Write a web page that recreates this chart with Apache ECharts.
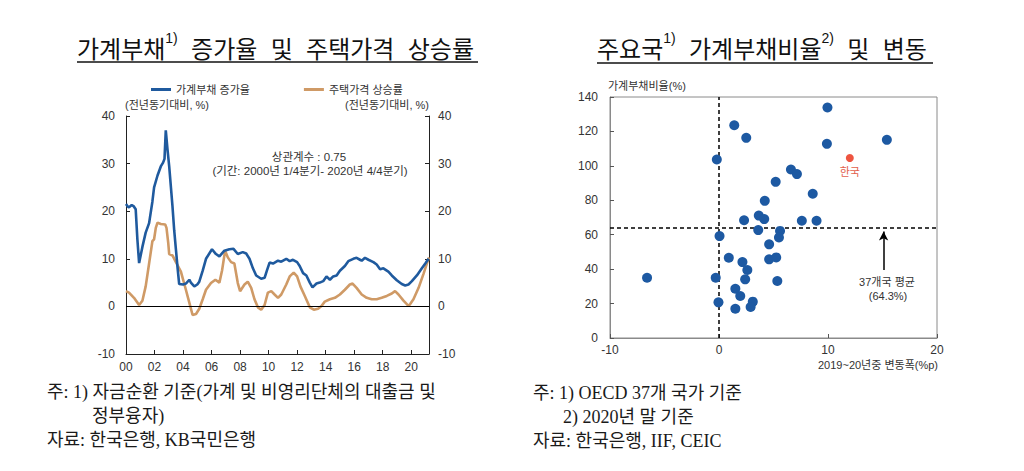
<!DOCTYPE html>
<html><head><meta charset="utf-8">
<script src="https://cdn.jsdelivr.net/npm/echarts@6/dist/echarts.min.js"></script>
<style>html,body{margin:0;padding:0;background:#fff}#c{width:1024px;height:471px}</style>
</head><body><div id="c"></div>
<script>
// ---- Left chart data ----
const yearTickLabels = ['00','02','04','06','08','10','12','14','16','18','20'];
const leftYTicks = [-10, 0, 10, 20, 30, 40];
const seriesNames = ['가계부채 증가율', '주택가격 상승률'];
const debtGrowth = [[2000.0,21.5],[2000.12,21.0],[2000.21,20.8],[2000.4,21.3],[2000.55,21.0],[2000.68,20.4],[2000.8,14],[2000.92,9.1],[2001.15,12.5],[2001.38,15.5],[2001.62,17.5],[2001.85,22],[2001.97,25],[2002.21,27.5],[2002.44,29.4],[2002.6,30.2],[2002.7,31],[2002.79,37],[2002.91,33],[2003.03,29.4],[2003.26,21],[2003.38,16],[2003.5,12],[2003.62,8],[2003.73,4.7],[2004.0,4.6],[2004.2,4.8],[2004.44,5.6],[2004.55,5.0],[2004.79,4.2],[2005.0,4.6],[2005.14,5.2],[2005.38,7.5],[2005.61,10],[2006.03,12],[2006.31,11],[2006.55,10.5],[2006.9,11.7],[2007.25,12],[2007.54,12.1],[2007.84,11],[2008.19,11.4],[2008.43,11.1],[2008.66,10],[2008.9,8],[2009.13,6.5],[2009.48,5.8],[2009.72,6],[2009.88,7.5],[2010.07,9.2],[2010.31,9],[2010.66,9.6],[2010.89,9.4],[2011.24,10],[2011.48,9.5],[2011.71,9.8],[2012.0,9.3],[2012.18,8.5],[2012.42,7],[2012.65,6.5],[2012.89,5],[2013.08,4],[2013.36,4.8],[2013.59,5],[2013.83,5.3],[2014.06,6.3],[2014.3,5.6],[2014.53,6.3],[2014.77,6.5],[2015.0,7.5],[2015.35,8.5],[2015.59,9.5],[2015.94,10],[2016.17,10.2],[2016.41,9.8],[2016.53,9.6],[2016.76,10.2],[2017.0,9.8],[2017.35,9.3],[2017.58,8.8],[2017.82,7.8],[2018.05,8],[2018.4,7.3],[2018.64,6.5],[2018.99,5.5],[2019.34,4.7],[2019.58,4.4],[2019.81,4.6],[2020.05,5.3],[2020.4,6.5],[2020.75,8],[2020.99,9],[2021.22,10]];
const housePrice = [[2000.0,3.2],[2000.21,2.9],[2000.56,1.8],[2000.92,0.3],[2001.15,1.2],[2001.38,4.2],[2001.62,9],[2001.85,13.7],[2001.97,14.1],[2002.09,16.5],[2002.21,17.6],[2002.44,17.3],[2002.75,17.2],[2002.84,16.5],[2002.96,13.4],[2003.03,11],[2003.26,10.7],[2003.5,9.3],[2003.85,7.3],[2004.2,3.5],[2004.44,0.8],[2004.67,-1.8],[2004.91,-1.6],[2005.14,-0.5],[2005.38,1.5],[2005.61,3.5],[2005.96,4.9],[2006.27,5.6],[2006.55,5],[2006.74,7.6],[2006.95,11.7],[2007.14,10.3],[2007.37,9.3],[2007.6,9],[2007.84,4.9],[2008.0,3.2],[2008.31,4.6],[2008.54,5.2],[2008.78,3.9],[2009.01,1.5],[2009.25,-0.2],[2009.48,-0.7],[2009.72,0.3],[2009.95,2.9],[2010.19,3.2],[2010.42,2.5],[2010.66,1.8],[2010.89,2.5],[2011.24,4.6],[2011.48,6.3],[2011.76,7.1],[2012.0,6.3],[2012.23,4.2],[2012.54,2.2],[2012.89,-0.2],[2013.17,-0.7],[2013.47,-0.5],[2013.71,0.1],[2013.94,1.0],[2014.3,1.5],[2014.65,1.8],[2015.0,2.5],[2015.35,3.5],[2015.7,4.6],[2015.89,4.8],[2016.17,3.9],[2016.53,2.5],[2016.88,1.8],[2017.23,1.5],[2017.58,1.5],[2017.93,1.8],[2018.29,2.2],[2018.64,2.7],[2018.87,3.2],[2019.11,2.5],[2019.46,1.2],[2019.81,0.1],[2019.93,0.5],[2020.16,1.5],[2020.52,3.9],[2020.87,6.9],[2021.1,9],[2021.25,10.3]];

// ---- Right chart data: [2019~20 change (%p), household debt ratio (%)] ----
const countryPoints = [[1.4,123.6],[2.5,116.3],[-0.2,103.7],[5.2,90.7],[4.2,79.7],[2.3,68.4],[3.65,71.1],[4.15,69.1],[9.95,133.9],[9.9,112.8],[15.4,115.1],[6.6,97.9],[7.15,95.2],[8.6,83.8],[7.6,68.1],[8.95,68.1],[3.6,62.7],[5.6,62.2],[0.05,59.2],[5.5,58.4],[4.6,54.4],[0.9,46.6],[2.15,44.1],[4.6,45.7],[5.25,46.8],[2.6,39.5],[-0.3,35.0],[2.4,34.1],[5.35,33.1],[1.5,28.6],[1.95,24.4],[-0.05,20.7],[3.1,21.1],[2.9,18.0],[1.5,17.0],[-6.6,35.0]];
const koreaPoint = [[12.0,104.6]];
const koreaLabel = '한국';
const oecdAverage = 64.3;
const rightXTicks = [-10, 0, 10, 20];
const rightYTicks = [0, 20, 40, 60, 80, 100, 120, 140];

const FONT = "'Liberation Sans','Noto Sans CJK KR',sans-serif";
const SERIF = "'Liberation Serif','Noto Sans CJK KR',serif";
const BLUE = '#1f5a9e', ORANGE = '#cf9a66', DOT = '#1d59a2', RED = '#ee5440';
const axisText = {color:'#333', fontSize:12, fontFamily:FONT};
const noteStyle = (t) => ({text:t, fontSize:18, fontFamily:SERIF, fill:'#1a1a1a', verticalAlign:'middle'});

const chart = echarts.init(document.getElementById('c'), null, {renderer:'svg'});
chart.setOption({
  animation:false,
  textStyle:{fontFamily:FONT},
  legend:{data:seriesNames, left:146, top:79, itemWidth:20, itemHeight:3, itemGap:54, icon:'rect',
    textStyle:{fontSize:11, color:'#333', fontFamily:FONT}},
  grid:[
    {left:126, top:116, width:303, height:238},
    {left:610, top:97, width:327, height:241, show:true, borderColor:'#8a8a8a', borderWidth:1}
  ],
  xAxis:[
    {gridIndex:0, type:'value', min:2000, max:2021.25, interval:2,
     axisLine:{onZero:false, lineStyle:{color:'#222', width:1}},
     axisTick:{inside:true, length:4, lineStyle:{color:'#222'}},
     splitLine:{show:false}, showMaxLabel:false,
     axisLabel:Object.assign({margin:7, formatter:v=>yearTickLabels[Math.round((v-2000)/2)] ?? ''}, axisText)},
    {gridIndex:1, type:'value', min:rightXTicks[0], max:rightXTicks[rightXTicks.length-1], interval:10,
     axisLine:{onZero:false, lineStyle:{color:'#8a8a8a'}},
     axisTick:{inside:true, length:4, lineStyle:{color:'#555'}},
     splitLine:{show:false},
     axisLabel:Object.assign({margin:6}, axisText)}
  ],
  yAxis:[
    {gridIndex:0, type:'value', min:leftYTicks[0], max:leftYTicks[leftYTicks.length-1], interval:10,
     axisLine:{show:true, onZero:false, lineStyle:{color:'#222'}},
     axisTick:{show:true, inside:true, length:4, lineStyle:{color:'#222'}},
     splitLine:{show:false}, axisLabel:Object.assign({margin:11}, axisText)},
    {gridIndex:0, type:'value', position:'right', min:leftYTicks[0], max:leftYTicks[leftYTicks.length-1], interval:10,
     axisLine:{show:true, onZero:false, lineStyle:{color:'#222'}},
     axisTick:{show:true, inside:true, length:4, lineStyle:{color:'#222'}},
     splitLine:{show:false}, axisLabel:Object.assign({margin:9}, axisText)},
    {gridIndex:1, type:'value', min:rightYTicks[0], max:rightYTicks[rightYTicks.length-1], interval:20,
     axisLine:{show:true, onZero:false, lineStyle:{color:'#8a8a8a'}},
     axisTick:{show:true, inside:true, length:4, lineStyle:{color:'#555'}},
     splitLine:{show:false}, axisLabel:Object.assign({margin:12}, axisText)}
  ],
  series:[
    {name:seriesNames[0], type:'line', xAxisIndex:0, yAxisIndex:0, data:debtGrowth, showSymbol:false,
     lineStyle:{color:BLUE, width:2.6}, itemStyle:{color:BLUE}, z:4,
     markLine:{silent:true, symbol:'none', label:{show:false}, lineStyle:{color:'#000', width:1, type:'solid'}, data:[{yAxis:0}]}},
    {name:seriesNames[1], type:'line', xAxisIndex:0, yAxisIndex:0, data:housePrice, showSymbol:false,
     lineStyle:{color:ORANGE, width:2.6}, itemStyle:{color:ORANGE}, z:3},
    {name:'countries', type:'scatter', xAxisIndex:1, yAxisIndex:2, data:countryPoints, symbol:'circle', symbolSize:10,
     itemStyle:{color:DOT, opacity:1}, z:5,
     markLine:{silent:true, symbol:'none', label:{show:false}, lineStyle:{color:'#000', width:1.5, type:[4,3]},
       data:[{xAxis:0},{yAxis:oecdAverage}]}},
    {name:koreaLabel, type:'scatter', xAxisIndex:1, yAxisIndex:2, data:koreaPoint, symbol:'circle', symbolSize:8,
     itemStyle:{color:RED, opacity:1}, z:6,
     label:{show:true, position:'bottom', distance:5, formatter:koreaLabel, color:'#e2604c', fontSize:11, fontFamily:FONT},
     markLine:{silent:true, symbol:['none','arrow'], symbolSize:[7,9], label:{show:false},
       lineStyle:{color:'#000', width:1.5, type:'solid'},
       data:[[{coord:[15.1,39.5]},{coord:[15.1,61.8]}]]}}
  ],
  graphic:[
    {type:'text', left:77, top:31, style:{
      text:'{m|가계부채}{s|1)}{m|  증가율  및  주택가격  상승률}',
      rich:{m:{fontSize:24, fontFamily:FONT, fill:'#111', lineHeight:30, verticalAlign:'bottom'},
            s:{fontSize:14, fontFamily:FONT, fill:'#111', lineHeight:30, verticalAlign:'top'}}}},
    {type:'line', shape:{x1:77, y1:62, x2:478, y2:62}, style:{stroke:'#111', lineWidth:1.5}},
    {type:'text', left:597, top:31, style:{
      text:'{m|주요국}{s|1)}{m|  가계부채비율}{s|2)}{m|  및  변동}',
      rich:{m:{fontSize:24, fontFamily:FONT, fill:'#111', lineHeight:30, verticalAlign:'bottom'},
            s:{fontSize:14, fontFamily:FONT, fill:'#111', lineHeight:30, verticalAlign:'top'}}}},
    {type:'line', shape:{x1:597, y1:63, x2:933, y2:63}, style:{stroke:'#111', lineWidth:1.5}},
    {type:'text', x:125, y:105, style:{text:'(전년동기대비, %)', fontSize:11, fontFamily:FONT, fill:'#333', verticalAlign:'middle'}},
    {type:'text', x:429, y:105, style:{text:'(전년동기대비, %)', fontSize:11, fontFamily:FONT, fill:'#333', align:'right', verticalAlign:'middle'}},
    {type:'text', x:309, y:157, style:{text:'상관계수 : 0.75', fontSize:11.5, fontFamily:FONT, fill:'#333', align:'center', verticalAlign:'middle'}},
    {type:'text', x:310, y:171, style:{text:'(기간: 2000년 1/4분기- 2020년 4/4분기)', fontSize:11.5, fontFamily:FONT, fill:'#333', align:'center', verticalAlign:'middle'}},
    {type:'text', x:608, y:86, style:{text:'가계부채비율(%)', fontSize:11, fontFamily:FONT, fill:'#333', verticalAlign:'middle'}},
    {type:'text', x:938, y:365, style:{text:'2019~20년중 변동폭(%p)', fontSize:11, fontFamily:FONT, fill:'#333', align:'right', verticalAlign:'middle'}},
    {type:'text', x:887, y:282, style:{text:'37개국 평균', fontSize:11, fontFamily:FONT, fill:'#333', align:'center', verticalAlign:'middle'}},
    {type:'text', x:888, y:296, style:{text:'(64.3%)', fontSize:11, fontFamily:FONT, fill:'#333', align:'center', verticalAlign:'middle'}},
    {type:'text', x:47, y:392, style:noteStyle('주: 1) 자금순환 기준(가계 및 비영리단체의 대출금 및')},
    {type:'text', x:92, y:416, style:noteStyle('정부융자)')},
    {type:'text', x:47, y:440, style:noteStyle('자료: 한국은행, KB국민은행')},
    {type:'text', x:533, y:393, style:noteStyle('주: 1) OECD 37개 국가 기준')},
    {type:'text', x:563, y:417, style:noteStyle('2) 2020년 말 기준')},
    {type:'text', x:533, y:441, style:noteStyle('자료: 한국은행, IIF, CEIC')}
  ]
});
</script></body></html>
